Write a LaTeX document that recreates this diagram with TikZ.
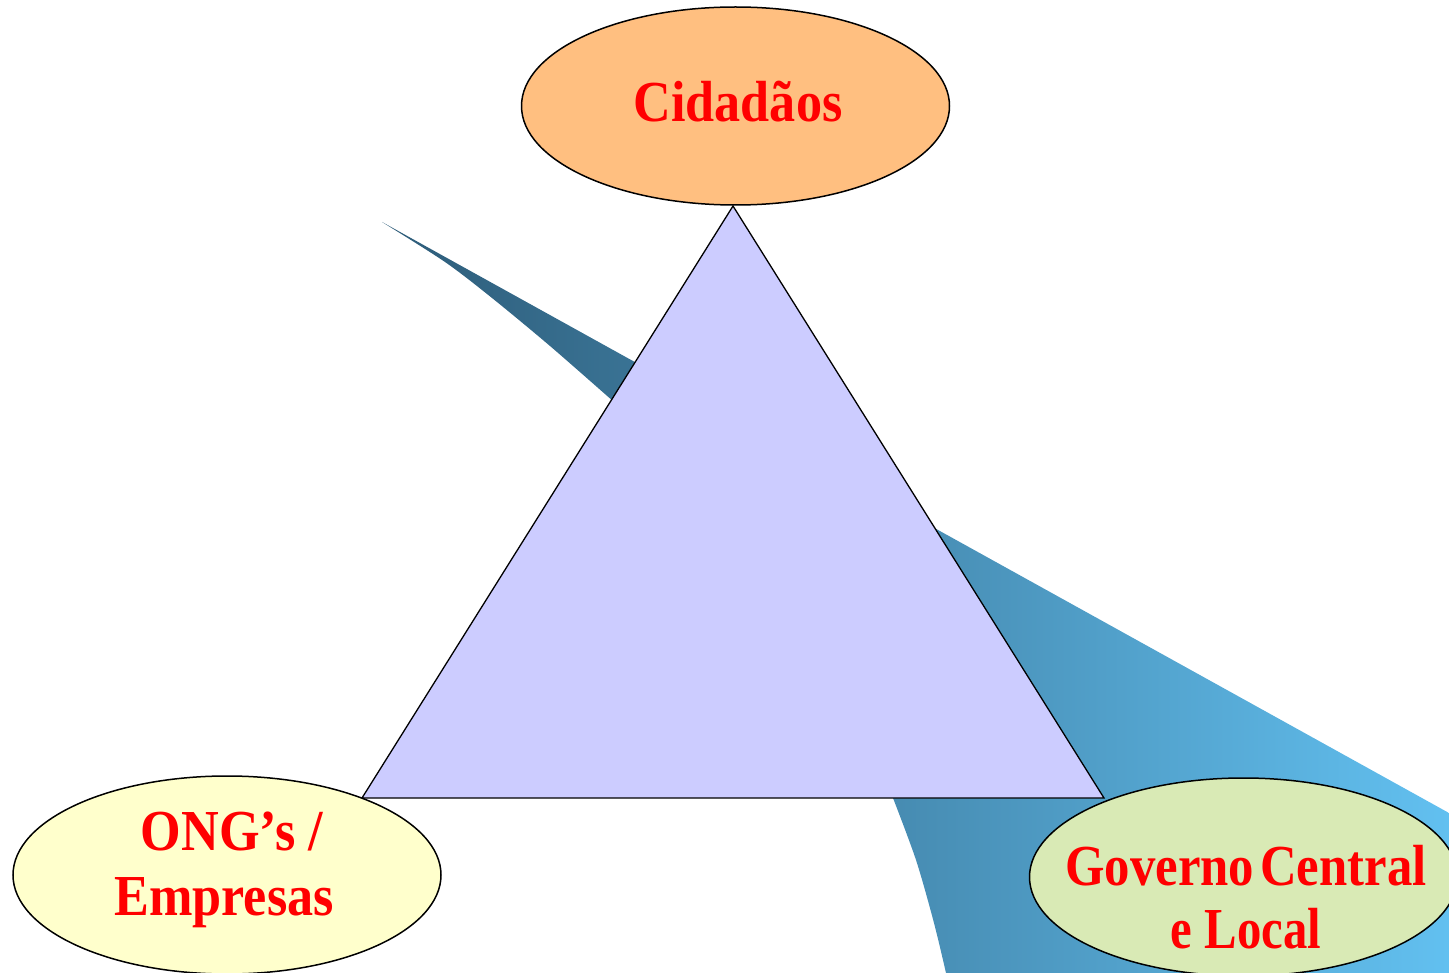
\documentclass[tikz,border=0pt]{standalone}
\usepackage{fontspec}
\setmainfont{Liberation Serif}
\usepackage{graphicx}
\usetikzlibrary{shapes.geometric}
\definecolor{cidfill}{HTML}{FFBF80}
\definecolor{ongfill}{HTML}{FFFFCC}
\definecolor{govfill}{HTML}{D9EAB5}
\definecolor{trifill}{HTML}{CCCCFF}
\definecolor{flowdark}{HTML}{2D5B78}
\definecolor{flowlight}{HTML}{62C0F0}
\tikzset{
  actor/.style={ellipse, draw=black, line width=1.5pt, minimum width=428pt, minimum height=198pt, inner sep=0pt},
  lbl/.style={anchor=base, inner sep=0pt, text=red, font=\fontsize{58}{66}\selectfont\bfseries}
}
\begin{document}
\begin{tikzpicture}[x=1pt,y=-1pt]
\useasboundingbox (0,0) rectangle (1449,973);
\begin{scope}
\clip (0,0) rectangle (1449,973);
% flow shape behind the triangle
\shade[left color=flowdark, right color=flowlight]
  plot[smooth] coordinates {(382,222) (445,262) (492,298) (550,346) (614,402)}
  -- (893,798)
  -- plot[smooth] coordinates {(893,798) (916,860) (934,923) (946,973)}
  -- (1449,973) -- (1449,813) -- cycle;
% triangle
\coordinate (ta) at (733,206);
\coordinate (tl) at (362,798);
\coordinate (tr) at (1104,798);
\draw[fill=trifill, line width=1.3pt, line join=miter] (ta) -- (tl) -- (tr) -- cycle;
% actors
\node[actor, fill=cidfill] (cid) at (735.5,106) {};
\node[actor, fill=ongfill] (ong) at (227,875) {};
\node[actor, fill=govfill] (gov) at (1243.5,877) {};
\end{scope}
% labels
\node[lbl] (cidt) at (738,122) {\scalebox{0.9}[1]{Cidadãos}};
\node[lbl] (ongt1) at (232,850) {\scalebox{0.9}[1]{ONG’s /}};
\node[lbl] (ongt2) at (224,915) {\scalebox{0.9}[1]{Empresas}};
\node[lbl] (govt1) at (1246,885) {\scalebox{0.875}[1]{Governo\hspace{0.12em}Central}};
\node[lbl] (govt2) at (1246,948) {\scalebox{0.84}[1]{e Local}};
\end{tikzpicture}
\end{document}
